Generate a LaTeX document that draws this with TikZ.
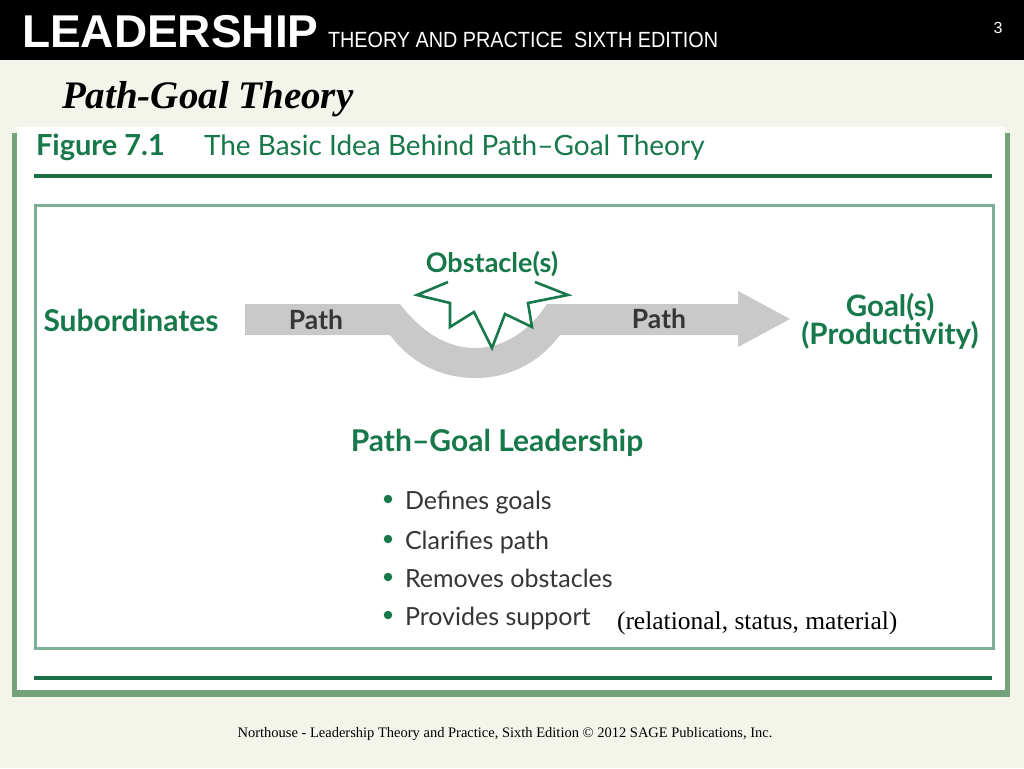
\documentclass[tikz,border=0pt]{standalone}
\usepackage{fontspec}
\setmainfont{Liberation Serif}
\newfontfamily\arialf{Liberation Sans}
\newfontfamily\gillf{Lato}
\definecolor{bg}{HTML}{F3F4EA}
\definecolor{fgreen}{HTML}{17784A}
\definecolor{lgreen}{HTML}{1B6E45}
\definecolor{boxg}{HTML}{7DAF96}
\definecolor{arrowgray}{HTML}{C9C9C9}
\definecolor{txtgray}{HTML}{363636}
\definecolor{shadowg}{HTML}{74A27A}
\tikzset{
  txt/.style={inner sep=0pt, outer sep=0pt},
  figlabel/.style={txt, text=fgreen, font=\gillf\bfseries\fontsize{30}{33}\selectfont},
  pathlabel/.style={txt, text=txtgray, font=\gillf\bfseries\fontsize{26.5}{30}\selectfont},
  bullettext/.style={txt, anchor=base west, text=txtgray, font=\gillf\fontsize{25}{29}\selectfont},
  bulletdot/.style={circle, fill=fgreen, inner sep=0pt, minimum size=8.5pt},
  rule/.style={line width=4pt, draw=lgreen},
}
\begin{document}
\begin{tikzpicture}[x=1pt,y=-1pt]
\useasboundingbox (0,0) rectangle (1024,768);
% background
\fill[bg] (0,0) rectangle (1024,768);
% header bar
\fill[black] (0,0) rectangle (1024,60);
\node[txt, anchor=base west, text=white, font=\arialf\bfseries\fontsize{46}{50}\selectfont] (lead) at (22,48) {LEADERSHIP};
\node[txt, anchor=base west, text=white, font=\arialf\fontsize{22}{26}\selectfont, xscale=0.9] (sub) at (328,48) {THEORY AND PRACTICE\ \ SIXTH EDITION};
\node[txt, text=white, font=\arialf\fontsize{16}{18}\selectfont] (pnum) at (998,28) {3};
% title
\node[txt, anchor=base west, font=\bfseries\itshape\fontsize{39}{44}\selectfont] (title) at (62,108) {Path-Goal Theory};
% figure panel
\fill[shadowg] (12,133) rectangle (1010,697);
\fill[white] (17,127) rectangle (1005,690);
\node[txt, anchor=base west, text=fgreen, font=\gillf\bfseries\fontsize{29}{32}\selectfont] (fignum) at (36,155) {Figure 7.1};
\node[txt, anchor=base west, text=fgreen, font=\gillf\fontsize{28}{32}\selectfont] (figtitle) at (204,155) {The Basic Idea Behind Path–Goal Theory};
\draw[rule] (34,176) -- (992,176);
\draw[rule] (34,678) -- (992,678);
\draw[boxg, line width=3pt] (35,205) rectangle (993,648);
% gray arrow band
\fill[arrowgray] (245,304) -- (400,304)
  .. controls (420,330) and (445,348) .. (475,348)
  .. controls (505,348) and (530,330) .. (547,304)
  -- (738,304) -- (738,291) -- (790,319) -- (738,347) -- (738,335) -- (560,335)
  .. controls (540,362) and (510,378) .. (475,378)
  .. controls (440,378) and (410,362) .. (390,335)
  -- (245,335) -- cycle;
% obstacle star
\coordinate (s1) at (448,282);
\coordinate (s2) at (417,295);
\coordinate (s3) at (450,303);
\coordinate (s4) at (450,327);
\coordinate (s5) at (474,312);
\coordinate (s6) at (492,348);
\coordinate (s7) at (505,314);
\coordinate (s8) at (532,327);
\coordinate (s9) at (528,303);
\coordinate (s10) at (568,295);
\coordinate (s11) at (535,282);
\fill[white] (s1) -- (s2) -- (s3) -- (s4) -- (s5) -- (s6) -- (s7) -- (s8) -- (s9) -- (s10) -- (s11) -- cycle;
\draw[fgreen, line width=2.6pt, line join=miter] (s1) -- (s2) -- (s3) -- (s4) -- (s5) -- (s6) -- (s7) -- (s8) -- (s9) -- (s10) -- (s11);
% labels
\node[figlabel] (subord) at (131,320) {Subordinates};
\node[figlabel, font=\gillf\bfseries\fontsize{27}{30}\selectfont] (obst) at (492,264) {Obstacle(s)};
\node[pathlabel] (path1) at (316,320) {Path};
\node[pathlabel] (path2) at (659,319) {Path};
\node[figlabel, align=center, font=\gillf\bfseries\fontsize{29.5}{28}\selectfont] (goal) at (890,321) {Goal(s)\\(Productivity)};
\node[figlabel] (pgl) at (497,443) {Path–Goal Leadership};
% bullets
\foreach \yy/\itm [count=\i] in {499/Defines goals, 539/Clarifies path, 577/Removes obstacles, 615/Provides support}{
  \node[bulletdot] (dot\i) at (388,\yy) {};
  \node[bullettext] (b\i) at (405,\yy+10) {\itm};
}
\node[txt, anchor=base west, font=\fontsize{25.5}{29}\selectfont] (rel) at (617,629) {(relational, status, material)};
% footer
\node[txt, font=\fontsize{14.5}{17}\selectfont] (foot) at (505,734) {Northouse - Leadership Theory and Practice, Sixth Edition © 2012 SAGE Publications, Inc.};
\end{tikzpicture}
\end{document}
